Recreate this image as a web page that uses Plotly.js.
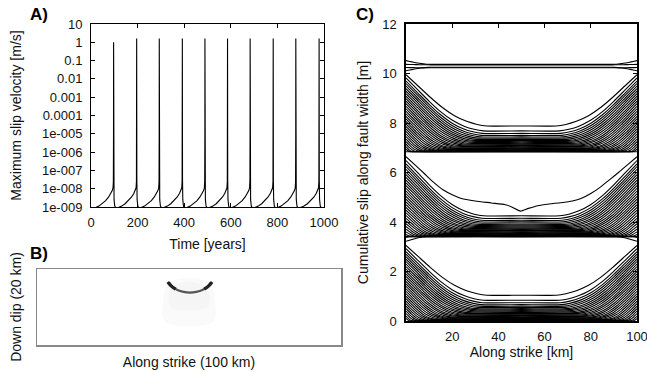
<!DOCTYPE html>
<html>
<head>
<meta charset="utf-8">
<script src="https://cdn.plot.ly/plotly-3.0.1.min.js"></script>
<style>html,body{margin:0;padding:0;background:#fff;overflow:hidden}#chart{width:647px;height:372px}</style>
</head>
<body>
<div id="chart"></div>
<script>
// ---------- Panel A: maximum slip velocity time series ----------
const eventYears   = [97, 196, 293, 392, 489, 586, 683, 782, 879, 979];
const eventPeakVel = [1.0, 1.6, 1.6, 1.6, 1.6, 1.6, 1.6, 1.6, 1.6, 1.6];
// shape of one interseismic cycle (fraction of interval, log10 velocity)
const cyclePhase  = [0.003, 0.008, 0.02, 0.05, 0.10, 0.20, 0.35, 0.50, 0.65, 0.78, 0.88, 0.94, 0.975, 0.99, 0.997];
const cycleLogVel = [-5.0, -7.5, -8.6, -8.95, -9.05, -9.03, -8.95, -8.82, -8.65, -8.45, -8.25, -8.1, -7.95, -7.6, -5.0];
const velTickVals = [1e-9, 1e-8, 1e-7, 1e-6, 1e-5, 1e-4, 1e-3, 1e-2, 1e-1, 1, 10];
const velTickText = ['1e-009', '1e-008', '1e-007', '1e-006', '1e-005', '0.0001', '0.001', '0.01', '0.1', '1', '10'];
const timeTicks   = [0, 200, 400, 600, 800, 1000];

// ---------- Panel B: snapshot of slip rate on the fault ----------
const arcAlongKm = [43.5, 44.5, 46.2, 48.2, 50.3, 52.4, 54.4, 56.1, 57.1];
const arcDipKm   = [3.6, 4.6, 5.5, 6.0, 6.2, 6.0, 5.5, 4.6, 3.6];
const arcTipLeftAlong  = [43.0, 44.2, 45.6];
const arcTipLeftDip    = [3.4, 4.5, 5.3];
const arcTipRightAlong = [57.6, 56.4, 55.0];
const arcTipRightDip   = [3.4, 4.5, 5.3];
const haloAlongKm = [42, 41.5, 42.5, 45, 50, 55, 57.5, 58.5, 58, 42];
const haloDipKm   = [13.8, 8, 4.5, 3, 2.4, 3, 4.5, 8, 13.8, 13.8];
const haloInAlongKm = [44, 43.5, 46, 50, 54, 56.5, 56, 44];
const haloInDipKm   = [10, 6, 4, 3.4, 4, 6, 10, 10];

// ---------- Panel C: cumulative slip profiles ----------
const slipCycleBase      = [0, 3.41, 6.84];
const slipCycleEdgeShift = [0, -0.14, 0];
const slipCycleEdgeGain  = [1.0, 1.1, 1.02];
const lineEdgeSlip = [0.10, 0.20, 0.30, 0.40, 0.50, 0.60, 0.70, 0.80, 0.90, 1.00, 1.10, 1.20, 1.30, 1.40, 1.50,
                      1.60, 1.70, 1.80, 1.90, 2.00, 2.10, 2.20, 2.30, 2.40, 2.50, 2.60, 2.70, 2.80, 2.92, 3.05];
const lineMidSlip  = [0.000, 0.005, 0.010, 0.015, 0.020, 0.030, 0.040, 0.050, 0.060, 0.080, 0.10, 0.12, 0.14, 0.16, 0.19,
                      0.22, 0.25, 0.28, 0.31, 0.34, 0.38, 0.42, 0.46, 0.50, 0.55, 0.60, 0.66, 0.74, 0.84, 1.04];
const lineKneeKm   = [2, 3, 4.6, 6.2, 7.7, 9.1, 10.6, 12, 13.4, 14.7, 16, 17.3, 18.6, 19.8, 21,
                      22, 23.2, 24.3, 25.4, 26.6, 27.5, 28.5, 29.4, 30.4, 31.2, 32, 32.6, 33, 33.5, 35];
const kneeShapeU = [0, 0.15, 0.30, 0.45, 0.60, 0.75, 0.88, 1.0];
const kneeShapeG = [1, 0.78, 0.56, 0.36, 0.20, 0.09, 0.03, 0];
const dipLineKm   = [0, 4, 8, 12, 16, 20, 24, 30, 37, 43, 46, 49.5, 53, 57, 62, 67, 72, 76, 80, 84, 88, 92, 96, 100];
const dipLineSlip = [6.64, 6.3, 5.95, 5.6, 5.3, 5.1, 4.95, 4.85, 4.77, 4.7, 4.6, 4.44, 4.55, 4.66, 4.73, 4.78, 4.85, 4.96, 5.15, 5.4, 5.7, 6.0, 6.32, 6.64];
const extraEdgeSlip = [3.22, 3.41, 6.84, 10.52, 10.37, 10.11, 10.24];
const extraMidSlip  = [3.41, 3.41, 6.84, 10.37, 10.35, 10.25, 10.23];
const extraKneeKm   = [10, 10, 10, 11, 11, 11, 11];
const strikeTicks = [20, 40, 60, 80, 100];
const slipTicks   = [0, 2, 4, 6, 8, 10, 12];

// ---------- build panel A series ----------
const tA = [0], vA = [9e-10];
let prev = 0;
eventYears.forEach((ev, i) => {
  const len = ev - prev;
  cyclePhase.forEach((p, j) => {
    if (i === 0 && p < 0.1) return;
    tA.push(prev + p * len); vA.push(Math.pow(10, cycleLogVel[j]));
  });
  tA.push(ev); vA.push(eventPeakVel[i]);
  prev = ev;
});
{
  const len = eventYears[eventYears.length - 1] - eventYears[eventYears.length - 2];
  cyclePhase.forEach((p, j) => {
    const t = prev + p * len;
    if (t <= 1000) { tA.push(t); vA.push(Math.pow(10, cycleLogVel[j])); }
  });
}

// ---------- build panel C profiles ----------
function profile(E, M, knee, xs, ys) {
  for (let j = 0; j < kneeShapeU.length; j++) {
    xs.push(kneeShapeU[j] * knee); ys.push(M + (E - M) * kneeShapeG[j]);
  }
  xs.push(50); ys.push(M);
  for (let j = kneeShapeU.length - 1; j >= 0; j--) {
    xs.push(100 - kneeShapeU[j] * knee); ys.push(M + (E - M) * kneeShapeG[j]);
  }
  xs.push(null); ys.push(null);
}
const xC = [], yC = [];
slipCycleBase.forEach((base, c) => {
  for (let k = 0; k < lineEdgeSlip.length; k++) {
    if (c === 1 && k === lineEdgeSlip.length - 1) continue;
    const E = base + slipCycleEdgeShift[c] + lineEdgeSlip[k] * slipCycleEdgeGain[c];
    const M = base + lineMidSlip[k];
    profile(E, M, lineKneeKm[k], xC, yC);
  }
});
extraEdgeSlip.forEach((E, i) => profile(E, extraMidSlip[i], extraKneeKm[i], xC, yC));
dipLineKm.forEach((x, i) => { xC.push(x); yC.push(dipLineSlip[i]); });

const FONT = 'Liberation Sans, Arial, Helvetica, sans-serif';
const traces = [
  {x: tA, y: vA, xaxis: 'x', yaxis: 'y', type: 'scatter', mode: 'lines',
   line: {color: '#000', width: 1.1}, hoverinfo: 'skip'},
  {x: haloAlongKm, y: haloDipKm, xaxis: 'x3', yaxis: 'y3', type: 'scatter', mode: 'lines',
   fill: 'toself', fillcolor: 'rgba(0,0,0,0.02)', line: {width: 0, shape: 'spline'}, hoverinfo: 'skip'},
  {x: haloInAlongKm, y: haloInDipKm, xaxis: 'x3', yaxis: 'y3', type: 'scatter', mode: 'lines',
   fill: 'toself', fillcolor: 'rgba(0,0,0,0.02)', line: {width: 0, shape: 'spline'}, hoverinfo: 'skip'},
  {x: arcAlongKm, y: arcDipKm, xaxis: 'x3', yaxis: 'y3', type: 'scatter', mode: 'lines',
   line: {color: '#555', width: 2.2, shape: 'spline'}, hoverinfo: 'skip'},
  {x: arcTipLeftAlong, y: arcTipLeftDip, xaxis: 'x3', yaxis: 'y3', type: 'scatter', mode: 'lines',
   line: {color: '#222', width: 3.2, shape: 'spline'}, hoverinfo: 'skip'},
  {x: arcTipRightAlong, y: arcTipRightDip, xaxis: 'x3', yaxis: 'y3', type: 'scatter', mode: 'lines',
   line: {color: '#222', width: 3.2, shape: 'spline'}, hoverinfo: 'skip'},
  {x: xC, y: yC, xaxis: 'x2', yaxis: 'y2', type: 'scatter', mode: 'lines',
   line: {color: '#000', width: 1.1, shape: 'spline', smoothing: 0.6}, connectgaps: false, hoverinfo: 'skip'}
];

const axCommon = {showline: true, mirror: 'ticks', linecolor: '#000', showgrid: false, zeroline: false,
  ticks: 'inside', ticklen: 4, tickcolor: '#000', ticklabeloverflow: 'allow',
  tickfont: {family: FONT, size: 13, color: '#111'}};

const layout = {
  width: 647, height: 372, margin: {l: 0, r: 0, t: 0, b: 0},
  paper_bgcolor: '#fff', plot_bgcolor: '#fff', showlegend: false,
  font: {family: FONT, size: 13, color: '#111'},
  xaxis: Object.assign({}, axCommon, {domain: [91/647, 324/647], anchor: 'y', range: [0, 1000],
    tickvals: timeTicks, linewidth: 1, ticklabelstandoff: 3,
    title: {text: 'Time [years]', font: {family: FONT, size: 14}, standoff: 10}}),
  yaxis: Object.assign({}, axCommon, {domain: [(372-207)/372, (372-24)/372], anchor: 'x', type: 'log', range: [-9, 1],
    tickvals: velTickVals, ticktext: velTickText, linewidth: 1, ticklabelstandoff: 5,
    title: {text: 'Maximum slip velocity [m/s]', font: {family: FONT, size: 14}, standoff: 17}}),
  xaxis2: Object.assign({}, axCommon, {domain: [406/647, 637/647], anchor: 'y2', range: [0, 100],
    tickvals: strikeTicks, linewidth: 1.6, ticklabelstandoff: 3,
    title: {text: 'Along strike [km]', font: {family: FONT, size: 14}, standoff: 4}}),
  yaxis2: Object.assign({}, axCommon, {domain: [(372-321)/372, (372-24)/372], anchor: 'x2', range: [0, 12],
    tickvals: slipTicks, linewidth: 1.6, ticklabelstandoff: 5,
    title: {text: 'Cumulative slip along fault width [m]', font: {family: FONT, size: 14}, standoff: 10}}),
  xaxis3: {domain: [37/647, 341/647], anchor: 'y3', range: [0, 100], showline: true, mirror: true,
    linecolor: '#888', linewidth: 1.5, showgrid: false, zeroline: false, ticks: '', showticklabels: false,
    title: {text: 'Along strike (100 km)', font: {family: FONT, size: 14}, standoff: 11}},
  yaxis3: {domain: [(372-345)/372, (372-269)/372], anchor: 'x3', range: [20, 0], showline: true, mirror: true,
    linecolor: '#888', linewidth: 1.5, showgrid: false, zeroline: false, ticks: '', showticklabels: false,
    title: {text: 'Down dip (20 km)', font: {family: FONT, size: 14}, standoff: 10}},
  annotations: [
    {text: '<b>A)</b>', xref: 'paper', yref: 'paper', x: 39/647, y: 1 - 15/372, showarrow: false,
     font: {family: FONT, size: 17, color: '#000'}, xanchor: 'center', yanchor: 'middle'},
    {text: '<b>B)</b>', xref: 'paper', yref: 'paper', x: 39/647, y: 1 - 254/372, showarrow: false,
     font: {family: FONT, size: 17, color: '#000'}, xanchor: 'center', yanchor: 'middle'},
    {text: '<b>C)</b>', xref: 'paper', yref: 'paper', x: 365/647, y: 1 - 15/372, showarrow: false,
     font: {family: FONT, size: 17, color: '#000'}, xanchor: 'center', yanchor: 'middle'}
  ]
};

Plotly.newPlot('chart', traces, layout, {staticPlot: true, displayModeBar: false});
</script>
</body>
</html>
